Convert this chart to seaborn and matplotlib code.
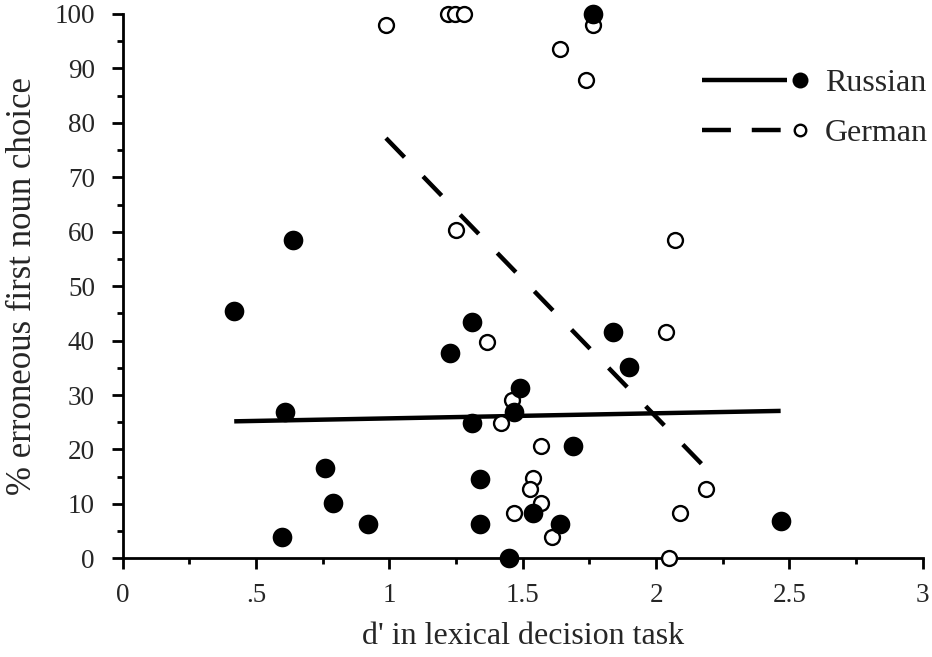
import numpy as np
import pandas as pd
import seaborn as sns
import matplotlib
matplotlib.use("Agg")
import matplotlib.pyplot as plt
from matplotlib.lines import Line2D
from matplotlib.legend_handler import HandlerBase
from matplotlib.ticker import MultipleLocator

# values
russian_d = [0.418, 0.608, 1.308, 1.227, 0.758, 0.789, 0.918, 0.598, 1.308, 1.339, 1.339,
             1.449, 1.489, 1.468, 1.839, 1.899, 1.689, 1.537, 1.639, 2.467, 0.640, 1.762]
russian_err = [45.5, 26.9, 43.5, 37.7, 16.6, 10.2, 6.3, 3.9, 24.8, 14.6, 6.3,
               0.0, 31.2, 26.9, 41.6, 35.2, 20.6, 8.3, 6.3, 6.9, 58.4, 100.0]

german_d = [0.987, 1.220, 1.246, 1.279, 1.248, 1.639, 1.762, 1.737, 2.070, 1.367, 1.458,
            1.418, 1.468, 1.568, 1.537, 1.527, 1.570, 1.608, 2.036, 2.186, 2.089, 2.049]
german_err = [98.0, 100.0, 100.0, 100.0, 60.3, 93.5, 98.0, 87.9, 58.5, 39.7, 29.0,
              24.9, 8.4, 20.6, 14.7, 12.7, 10.2, 3.9, 41.6, 12.7, 8.4, 0.0]

x_ticks = [0, 0.5, 1, 1.5, 2, 2.5, 3]
x_tick_labels = ["0", ".5", "1", "1.5", "2", "2.5", "3"]

ru = pd.DataFrame({"d": russian_d, "err": russian_err})
de = pd.DataFrame({"d": german_d, "err": german_err})

sns.set_style("ticks")
plt.rcParams["font.family"] = ["Liberation Serif", "DejaVu Serif"]

fig = plt.figure(figsize=(9.32, 6.57), dpi=100)
ax = fig.add_axes([0.1317, 0.1502, 0.8584, 0.8285])

sns.regplot(data=ru, x="d", y="err", ci=None, scatter=False, truncate=True, ax=ax,
            line_kws=dict(color="black", lw=3.2, solid_capstyle="butt"))
sns.regplot(data=de, x="d", y="err", ci=None, scatter=False, truncate=True, ax=ax,
            line_kws=dict(color="black", lw=3.2, dashes=(6, 6), dash_capstyle="butt"))

sns.scatterplot(data=de, x="d", y="err", ax=ax, marker="o", s=115, facecolor="white",
                edgecolor="black", linewidth=1.7, clip_on=False, zorder=3)
sns.scatterplot(data=ru, x="d", y="err", ax=ax, marker="o", s=200, color="black",
                edgecolor="black", linewidth=0, clip_on=False, zorder=4)

ax.set_xlim(0, 3)
ax.set_ylim(0, 100)
ax.set_xticks(x_ticks)
ax.set_xticklabels(x_tick_labels)
ax.set_yticks(range(0, 101, 10))
ax.xaxis.set_minor_locator(MultipleLocator(0.25))
ax.yaxis.set_minor_locator(MultipleLocator(5))
ax.tick_params(which="major", length=8, width=2, color="black", labelsize=19.5)
ax.tick_params(axis="x", which="major", pad=10)
ax.tick_params(axis="y", which="major", pad=12)
ax.tick_params(which="minor", length=4.5, width=2, color="black")
for s in ["top", "right"]:
    ax.spines[s].set_visible(False)
for s in ["left", "bottom"]:
    ax.spines[s].set_linewidth(2)
    ax.spines[s].set_color("black")

ax.set_xlabel("d' in lexical decision task", fontsize=23, labelpad=10)
ax.set_ylabel("% erroneous first noun choice", fontsize=25, labelpad=11)


class LineThenMarker(HandlerBase):
    def create_artists(self, legend, orig, xdescent, ydescent, width, height, fontsize, trans):
        y = height / 2 - ydescent
        x0 = -xdescent
        line = Line2D([x0, x0 + width * 0.87], [y, y], color="black", lw=3.2,
                      linestyle=orig.get_linestyle(), dash_capstyle="butt", solid_capstyle="butt")
        if orig.get_linestyle() != "-":
            line.set_dashes((6.5, 4.7))
        mk = Line2D([x0 + width], [y], linestyle="none", marker="o",
                    markersize=orig.get_markersize(), markerfacecolor=orig.get_markerfacecolor(),
                    markeredgecolor="black", markeredgewidth=orig.get_markeredgewidth())
        line.set_transform(trans)
        mk.set_transform(trans)
        return [line, mk]


h_ru = Line2D([], [], linestyle="-", marker="o", markersize=11.5, markerfacecolor="black",
              markeredgewidth=0)
h_de = Line2D([], [], linestyle="--", marker="o", markersize=8.3, markerfacecolor="white",
              markeredgewidth=1.7)
ax.legend([h_ru, h_de], ["Russian", "German"], handler_map={Line2D: LineThenMarker()},
          loc="upper right", bbox_to_anchor=(1.006, 0.899), frameon=False, fontsize=23,
          handlelength=3.06, handletextpad=0.78, labelspacing=0.64,
          borderaxespad=0, borderpad=0)

fig.savefig("out.png", dpi=100)
